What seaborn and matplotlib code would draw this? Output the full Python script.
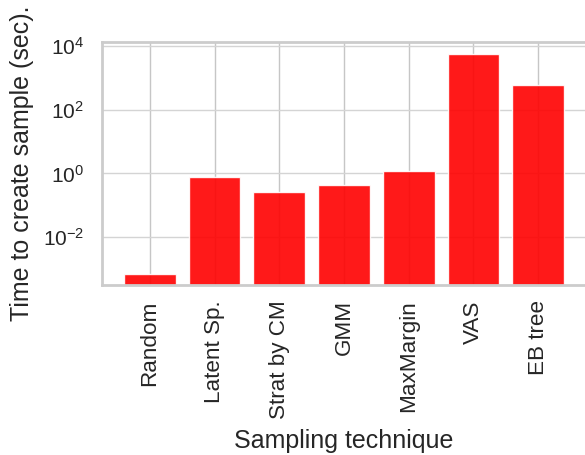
import matplotlib
matplotlib.use("Agg")
import matplotlib.pyplot as plt
import seaborn as sns
import pandas as pd

# Sampling techniques and the time each one takes to build a sample (seconds)
techniques = ["Random", "Latent Sp.", "Strat by CM", "GMM", "MaxMargin", "VAS", "EB tree"]
seconds = [6.9e-4, 0.80, 0.266, 0.42, 1.22, 5750.0, 581.0]

sns.set_theme(style="whitegrid")
plt.rcParams["font.family"] = ["Liberation Sans", "DejaVu Sans"]
plt.rcParams["mathtext.default"] = "regular"

df = pd.DataFrame({"technique": techniques, "seconds": seconds})

fig = plt.figure(figsize=(5.85, 4.55), dpi=100)
ax = fig.add_axes([0.1744, 0.3736, 0.8273, 0.5341])
ax.set_yscale("log")

sns.barplot(data=df, x="technique", y="seconds", color="#ff0000", alpha=0.9,
            width=0.8, edgecolor="white", linewidth=1, saturation=1,
            errorbar=None, ax=ax)

ax.set_xlim(-0.74, 6.74)
ax.set_ylim(10 ** -3.5, 10 ** 4.126)
ax.set_yticks([1e-2, 1e0, 1e2, 1e4])
ax.yaxis.set_minor_locator(matplotlib.ticker.NullLocator())

# grid sits behind the semi-transparent bars
ax.set_axisbelow(True)
ax.grid(axis="x", color="#c6c6c6", linewidth=1)
ax.grid(axis="y", color="#d4d4d4", linewidth=1)

for s in ax.spines.values():
    s.set_color("#cccccc")
    s.set_linewidth(2)

ax.tick_params(axis="x", labelsize=16.2, length=0, pad=11, labelrotation=90,
               colors="#262626")
ax.tick_params(axis="y", labelsize=15, length=0, pad=13, colors="#262626")

ax.set_xlabel("Sampling technique", fontsize=18, color="#262626", labelpad=7)
ax.set_ylabel("Time to create sample (sec).", fontsize=18, color="#262626",
              labelpad=6)

fig.savefig("out.png", dpi=100)
